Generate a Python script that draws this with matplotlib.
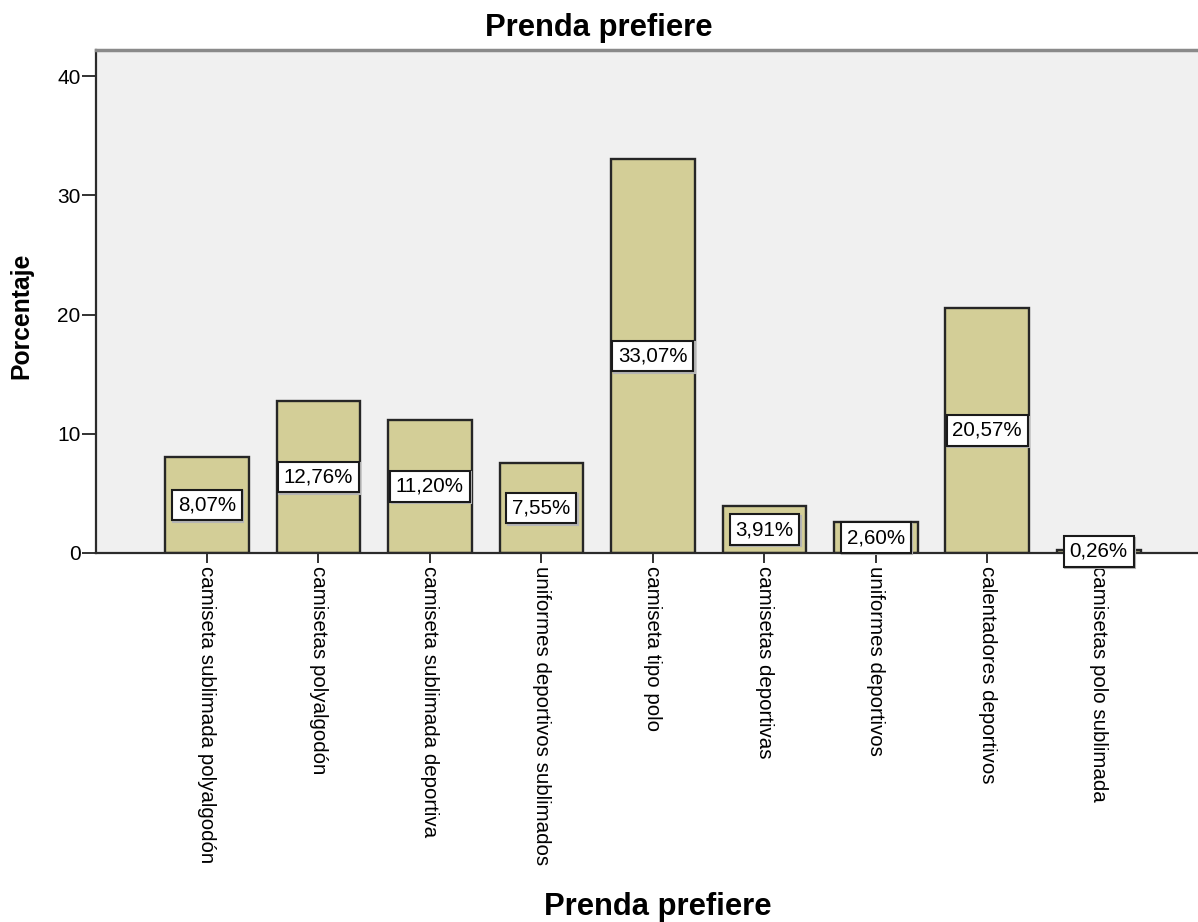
import matplotlib
matplotlib.use("Agg")
import matplotlib.pyplot as plt
import numpy as np

categories = ["camiseta sublimada polyalgodón", "camisetas polyalgodón",
              "camiseta sublimada deportiva", "uniformes deportivos sublimados",
              "camiseta tipo polo", "camisetas deportivas", "uniformes deportivos",
              "calentadores deportivos", "camisetas polo sublimada"]
values = [8.07, 12.76, 11.20, 7.55, 33.07, 3.91, 2.60, 20.57, 0.26]
labels = ["8,07%", "12,76%", "11,20%", "7,55%", "33,07%", "3,91%", "2,60%", "20,57%", "0,26%"]
yticks = [0, 10, 20, 30, 40]

plt.rcParams['font.family'] = ['Liberation Sans', 'DejaVu Sans']

fig = plt.figure(figsize=(11.98, 9.22), dpi=100)
ax = fig.add_axes([96/1198, 1-553/922, 1-96/1198, (553-50)/922])
ax.set_facecolor('#F0F0F0')

x = np.arange(len(categories))
ax.bar(x, values, width=0.75, color='#D3CE97', edgecolor='#262626', linewidth=1.7, zorder=2)

for xi, v, lab in zip(x, values, labels):
    ax.text(xi, v/2, lab, ha='center', va='center', fontsize=14.8, zorder=4,
            bbox=dict(boxstyle='square,pad=0.28', facecolor='white', edgecolor='#1a1a1a', linewidth=1.5),
            clip_on=False)
    ax.annotate(lab, (xi, v/2), xytext=(1.0, -1.0), textcoords='offset points',
                ha='center', va='center', fontsize=14.8, color='none', zorder=3,
                bbox=dict(boxstyle='square,pad=0.28', facecolor='#b5b5b5', edgecolor='#b5b5b5', linewidth=1.5),
                annotation_clip=False)

ax.set_xlim(-0.995, 8.89)
ax.set_ylim(0, 42.2)
ax.set_yticks(yticks)
ax.set_xticks(x)
ax.set_xticklabels(categories, rotation=270, ha='center', va='top', fontsize=14.8)
ax.tick_params(axis='y', length=10, width=1.3, pad=1, labelsize=15, color='#222222')
ax.tick_params(axis='x', length=7, width=1.3, pad=2, color='#222222')

ax.spines['right'].set_visible(False)
ax.spines['left'].set_color('#2b2b2b')
ax.spines['left'].set_linewidth(1.6)
ax.spines['bottom'].set_color('#2b2b2b')
ax.spines['bottom'].set_linewidth(1.6)
ax.spines['top'].set_color('#8a8a8a')
ax.spines['top'].set_linewidth(2.5)

fig.text(599/1198, 1-28/922, "Prenda prefiere", ha='center', va='center', fontsize=22.3, fontweight='bold')
fig.text(658/1198, 1-907/922, "Prenda prefiere", ha='center', va='center', fontsize=22.3, fontweight='bold')
fig.text(21/1198, 1-316/922, "Porcentaje", ha='center', va='center', rotation=90, fontsize=17.8, fontweight='bold')

fig.savefig("out.png", dpi=100)
